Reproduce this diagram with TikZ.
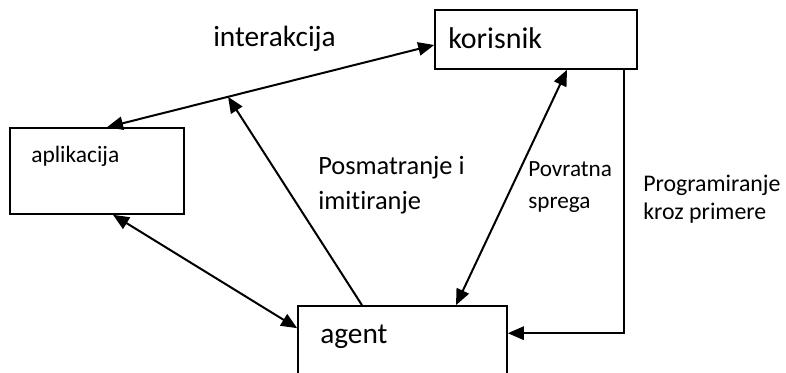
\documentclass[tikz,border=0pt]{standalone}
\usepackage{fontspec}
\setmainfont{Carlito}[Ligatures=NoCommon]
\usetikzlibrary{arrows.meta,positioning}

\def\px{0.75pt}
\tikzset{
	box/.style={draw, line width=1.2pt, inner sep=0pt},
	link/.style={line width=1.5pt, -{Triangle[length=12pt,width=10pt]}},
	both/.style={line width=1.5pt, {Triangle[length=12pt,width=10pt]}-{Triangle[length=12pt,width=10pt]}},
	txt/.style n args={2}{font=\fontsize{#1}{#2}\selectfont, inner sep=0pt, anchor=base west, align=left}
}

\begin{document}
\begin{tikzpicture}[x=\px, y=-\px]
		\useasboundingbox (0,0) rectangle (786,373);
		% boxes
		\node[box, minimum width=202*\px, minimum height=59*\px] (kor) at (536,39.5) {};
		\node[txt={22.5}{26}] (kortxt) at (448,49) {korisnik};
		\node[box, minimum width=174*\px, minimum height=86*\px] (apl) at (97,171) {};
		\node[txt={17.6}{21}] (apltxt) at (31,163) {aplikacija};
		\node[box, minimum width=209*\px, minimum height=100*\px] (agt) at (402.5,356) {};
		\node[txt={22}{26}] (agttxt) at (320,344) {agent};
		% connectors
		\draw[both] ([yshift=-5.5*\px]kor.west) -- coordinate[pos=0.63] (hit) ([xshift=10*\px]apl.north);
		\draw[link] ([xshift=-40.5*\px]agt.north) -- (hit);
		\draw[both] ([xshift=16*\px]apl.south) -- ([yshift=-23*\px]agt.north west);
		\draw[both] ([xshift=31*\px]kor.south) -- ([xshift=53.5*\px]agt.north);
		\draw[link] ([xshift=-14*\px]kor.south east) |- ([yshift=-28*\px]agt.north east);
		% labels (base = last line)
		\node[txt={22}{26}] (inter) at (213,47) {interakcija};
		\node[txt={19.8}{26.25}] (posm) at (318,210) {Posmatranje i\\imitiranje};
		\node[txt={17.4}{24}] (povr) at (528,209) {Povratna\\sprega};
		\node[txt={17.9}{21}] (prog) at (643,220) {Programiranje\\kroz primere};
\end{tikzpicture}
\end{document}
